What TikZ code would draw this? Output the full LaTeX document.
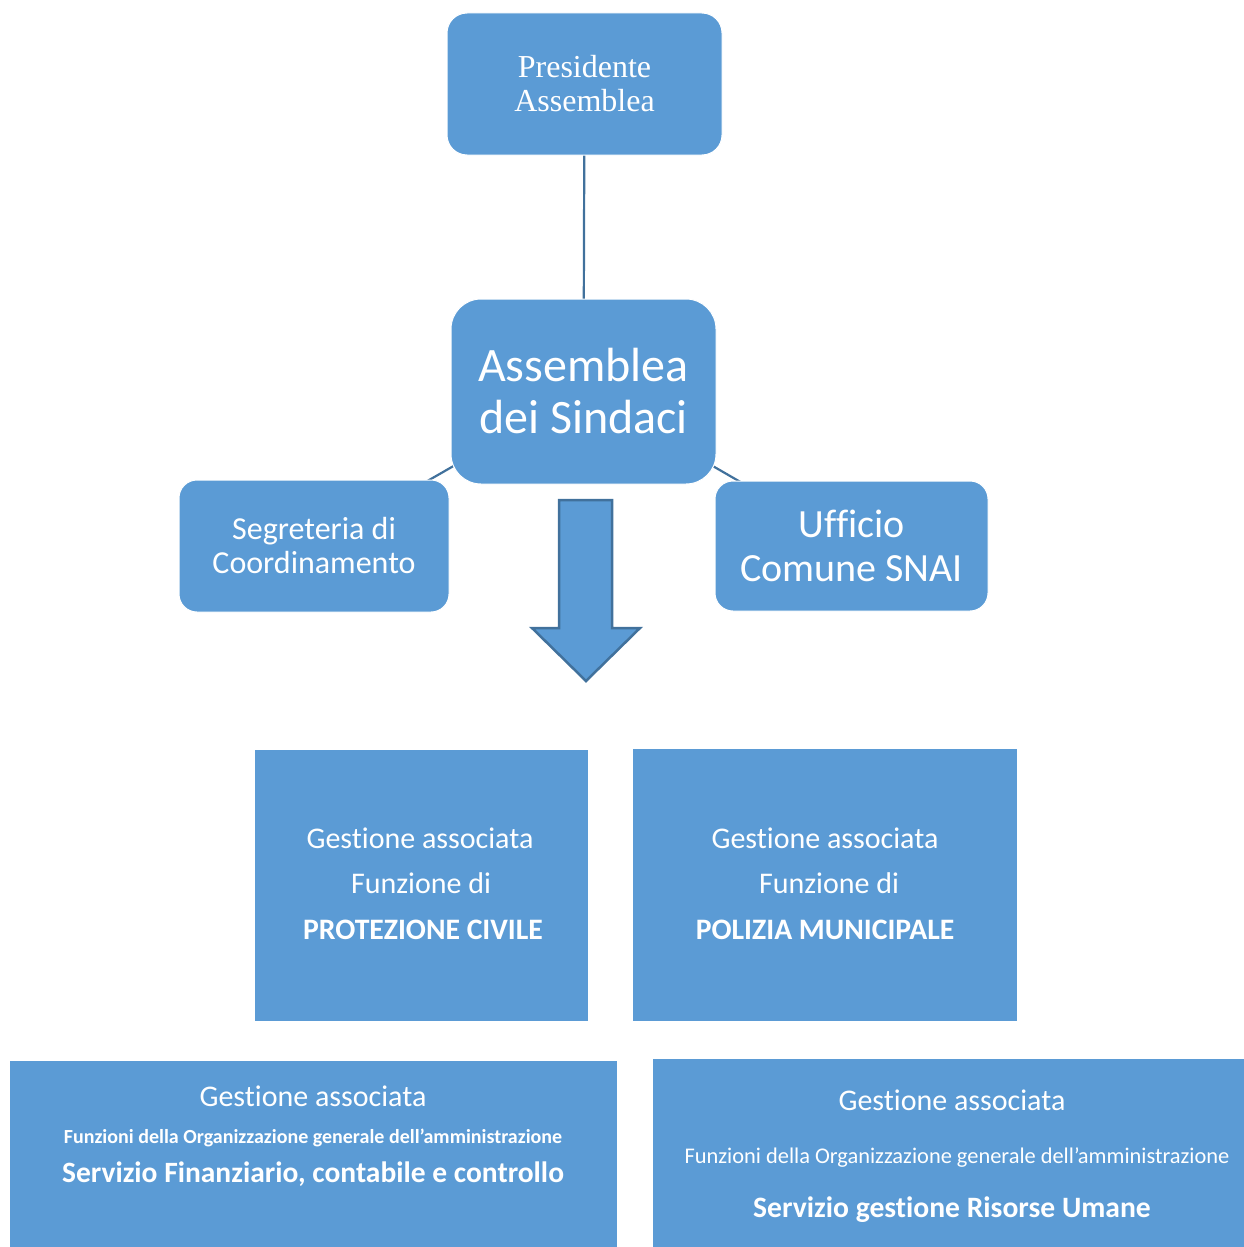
\documentclass[tikz,border=0pt]{standalone}
\usepackage{fontspec}
\setmainfont[RawFeature={-liga;-clig;-calt}]{Carlito}
\newfontfamily\tnr{Liberation Serif}
\definecolor{boxblue}{HTML}{5B9BD5}
\definecolor{lineblue}{HTML}{41719C}
\pgfdeclarelayer{bg}
\pgfsetlayers{bg,main}
\begin{document}
\begin{tikzpicture}[x=1pt,y=-1pt,
  box/.style={fill=boxblue,draw=white,line width=1pt,text=white,align=center,inner sep=0pt},
  txt/.style={text=white,inner sep=0pt,anchor=base},
  conn/.style={draw=lineblue,line width=2.2pt}]
\useasboundingbox (0,0) rectangle (1244,1247);
\clip (0,0) rectangle (1244,1247);

\node[box,rounded corners=20pt,minimum width=275pt,minimum height=142pt,
  font=\tnr\fontsize{32}{34}\selectfont] (pres) at (584.5,84) {Presidente\\Assemblea};
\node[box,rounded corners=30pt,minimum width=265pt,minimum height=185pt,
  font=\fontsize{48}{52}\selectfont] (asm) at (583.5,391.5) {Assemblea\\dei Sindaci};
\node[box,rounded corners=18pt,minimum width=270pt,minimum height=132pt,
  font=\fontsize{32}{34}\selectfont] (seg) at (314,546) {Segreteria di\\Coordinamento};
\node[box,rounded corners=18pt,minimum width=273pt,minimum height=130pt,
  font=\fontsize{40}{44}\selectfont] (uff) at (851.5,546) {Ufficio\\Comune SNAI};

\begin{pgfonlayer}{bg}
\draw[conn] (pres.center) -- (asm.center);
\draw[conn] (asm.center) -- (seg.center);
\draw[conn] (asm.center) -- (uff.center);
\end{pgfonlayer}

% block arrow
\draw[fill=boxblue,draw=lineblue,line width=2.5pt,line join=miter]
  (559,500) -- (612,500) -- (612,628) -- (640,628) -- (586,681) -- (532,628) -- (559,628) -- cycle;

% middle boxes
\node[box,minimum width=334pt,minimum height=272pt] (prot) at (421,885) {};
\node[txt,font=\fontsize{30}{36}\selectfont] (prot1) at (420,848) {Gestione associata};
\node[txt,font=\fontsize{30}{36}\selectfont] (prot2) at (421,893) {Funzione di};
\node[txt,font=\fontsize{29.7}{34}\selectfont\bfseries] (prot3) at (423,939) {PROTEZIONE CIVILE};

\node[box,minimum width=385pt,minimum height=273pt] (pol) at (824.5,884.5) {};
\node[txt,font=\fontsize{30}{36}\selectfont] (pol1) at (825,848) {Gestione associata};
\node[txt,font=\fontsize{30}{36}\selectfont] (pol2) at (829,893) {Funzione di};
\node[txt,font=\fontsize{29.7}{34}\selectfont\bfseries] (pol3) at (825,939) {POLIZIA MUNICIPALE};

% bottom boxes
\node[box,minimum width=608pt,minimum height=200pt] (fin) at (313,1160) {};
\node[txt,font=\fontsize{30}{36}\selectfont] (fin1) at (313,1106) {Gestione associata};
\node[txt,font=\fontsize{20}{24}\selectfont\bfseries] (fin2) at (313,1143) {Funzioni della Organizzazione generale dell’amministrazione};
\node[txt,font=\fontsize{29.5}{34}\selectfont\bfseries] (fin3) at (313,1182) {Servizio Finanziario, contabile e controllo};

\node[box,minimum width=598pt,minimum height=202pt] (hr) at (951,1159) {};
\node[txt,font=\fontsize{30}{36}\selectfont] (hr1) at (952,1110) {Gestione associata};
\node[txt,font=\fontsize{22.4}{26}\selectfont] (hr2) at (957,1163) {Funzioni della Organizzazione generale dell’amministrazione};
\node[txt,font=\fontsize{29.6}{34}\selectfont\bfseries] (hr3) at (952,1217) {Servizio gestione Risorse Umane};
\end{tikzpicture}
\end{document}
